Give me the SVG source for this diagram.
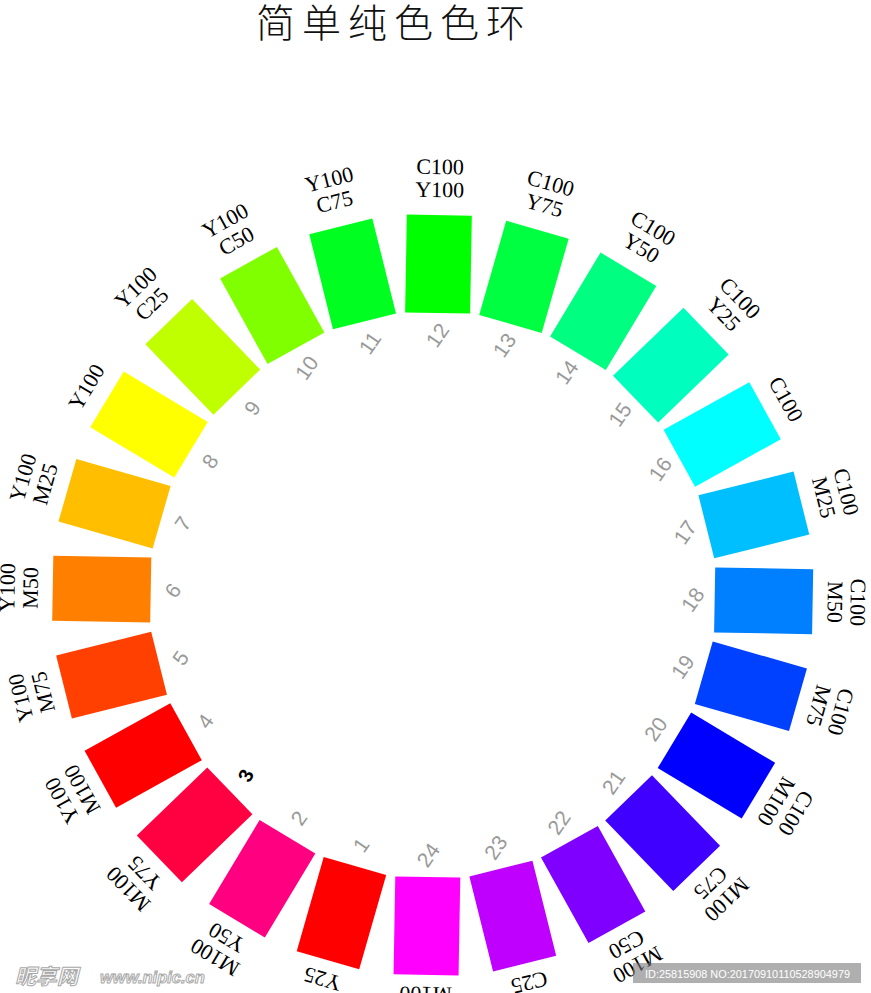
<svg xmlns="http://www.w3.org/2000/svg" width="871" height="993" viewBox="0 0 871 993">
<style>
.title{font-family:"Noto Sans CJK SC","Noto Sans CJK JP",sans-serif;font-size:39px;font-weight:300;fill:#111;letter-spacing:7px}
.lbl{font-family:"Liberation Serif","Times New Roman",serif;font-size:22px;fill:#000;text-anchor:middle}
.num{font-family:"Liberation Sans",Arial,sans-serif;font-size:21px;fill:#9a9a9a;text-anchor:middle}
.num3{font-family:"Liberation Sans",Arial,sans-serif;font-size:20px;font-weight:bold;fill:#000;text-anchor:middle}
.wm{font-family:"Liberation Sans",Arial,"Noto Sans CJK SC",sans-serif;font-weight:bold;font-style:italic;fill:#fff;stroke:#a8a8a8;stroke-width:1}
.wid{font-family:"Liberation Sans",Arial,sans-serif;font-size:10.5px;fill:#fff}
</style>
<rect width="871" height="993" fill="#fff"/>
<text class="title" x="256" y="37">简单纯色色环</text>

<g id="n1" transform="rotate(-164 432.7 595)">
<rect x="400.2" y="215" width="65" height="98" fill="#FF0000"/>
<text class="lbl" x="432.7" y="202.9">Y25</text>
<text class="num" transform="translate(432.7 335) rotate(109)" y="7.5">1</text>
</g>
<g id="n2" transform="rotate(-149 432.7 595)">
<rect x="400.2" y="215" width="65" height="98" fill="#FF0080"/>
<text class="lbl" x="432.7" y="179.6">M100</text>
<text class="lbl" x="432.7" y="202.6">Y50</text>
<text class="num" transform="translate(432.7 335) rotate(94)" y="7.5">2</text>
</g>
<g id="n3" transform="rotate(-134 432.7 595)">
<rect x="400.2" y="215" width="65" height="98" fill="#FF0040"/>
<text class="lbl" x="432.7" y="179.1">M100</text>
<text class="lbl" x="432.7" y="202.1">Y75</text>
<text class="num3" transform="translate(432.7 335) rotate(69)" y="7">3</text>
</g>
<g id="n4" transform="rotate(-119 432.7 595)">
<rect x="400.2" y="215" width="65" height="98" fill="#FF0000"/>
<text class="lbl" x="432.7" y="178.5">Y100</text>
<text class="lbl" x="432.7" y="201.5">M100</text>
<text class="num" transform="translate(432.7 335) rotate(64)" y="7.5">4</text>
</g>
<g id="n5" transform="rotate(-104 432.7 595)">
<rect x="400.2" y="215" width="65" height="98" fill="#FF4000"/>
<text class="lbl" x="432.7" y="177.8">Y100</text>
<text class="lbl" x="432.7" y="200.8">M75</text>
<text class="num" transform="translate(432.7 335) rotate(49)" y="7.5">5</text>
</g>
<g id="n6" transform="rotate(-89 432.7 595)">
<rect x="400.2" y="215" width="65" height="98" fill="#FF8000"/>
<text class="lbl" x="432.7" y="177">Y100</text>
<text class="lbl" x="432.7" y="200">M50</text>
<text class="num" transform="translate(432.7 335) rotate(34)" y="7.5">6</text>
</g>
<g id="n7" transform="rotate(-74 432.7 595)">
<rect x="400.2" y="215" width="65" height="98" fill="#FFBF00"/>
<text class="lbl" x="432.7" y="176.2">Y100</text>
<text class="lbl" x="432.7" y="199.2">M25</text>
<text class="num" transform="translate(432.7 335) rotate(19)" y="7.5">7</text>
</g>
<g id="n8" transform="rotate(-59 432.7 595)">
<rect x="400.2" y="215" width="65" height="98" fill="#FFFF00"/>
<text class="lbl" x="432.7" y="198.5">Y100</text>
<text class="num" transform="translate(432.7 335) rotate(4)" y="7.5">8</text>
</g>
<g id="n9" transform="rotate(-44 432.7 595)">
<rect x="400.2" y="215" width="65" height="98" fill="#BFFF00"/>
<text class="lbl" x="432.7" y="174.9">Y100</text>
<text class="lbl" x="432.7" y="197.9">C25</text>
<text class="num" transform="translate(432.7 335) rotate(-11)" y="7.5">9</text>
</g>
<g id="n10" transform="rotate(-29 432.7 595)">
<rect x="400.2" y="215" width="65" height="98" fill="#80FF00"/>
<text class="lbl" x="432.7" y="174.4">Y100</text>
<text class="lbl" x="432.7" y="197.4">C50</text>
<text class="num" transform="translate(432.7 335) rotate(-26)" y="7.5">10</text>
</g>
<g id="n11" transform="rotate(-14 432.7 595)">
<rect x="400.2" y="215" width="65" height="98" fill="#00FF20"/>
<text class="lbl" x="432.7" y="174">Y100</text>
<text class="lbl" x="432.7" y="197">C75</text>
<text class="num" transform="translate(432.7 335) rotate(-41)" y="7.5">11</text>
</g>
<g id="n12" transform="rotate(1 432.7 595)">
<rect x="400.2" y="215" width="65" height="98" fill="#00FF00"/>
<text class="lbl" x="432.7" y="174">C100</text>
<text class="lbl" x="432.7" y="197">Y100</text>
<text class="num" transform="translate(432.7 335) rotate(-56)" y="7.5">12</text>
</g>
<g id="n13" transform="rotate(16 432.7 595)">
<rect x="400.2" y="215" width="65" height="98" fill="#00FF40"/>
<text class="lbl" x="432.7" y="174">C100</text>
<text class="lbl" x="432.7" y="197">Y75</text>
<text class="num" transform="translate(432.7 335) rotate(-71)" y="7.5">13</text>
</g>
<g id="n14" transform="rotate(31 432.7 595)">
<rect x="400.2" y="215" width="65" height="98" fill="#00FF80"/>
<text class="lbl" x="432.7" y="174.4">C100</text>
<text class="lbl" x="432.7" y="197.4">Y50</text>
<text class="num" transform="translate(432.7 335) rotate(-86)" y="7.5">14</text>
</g>
<g id="n15" transform="rotate(46 432.7 595)">
<rect x="400.2" y="215" width="65" height="98" fill="#00FFBF"/>
<text class="lbl" x="432.7" y="174.9">C100</text>
<text class="lbl" x="432.7" y="197.9">Y25</text>
<text class="num" transform="translate(432.7 335) rotate(-101)" y="7.5">15</text>
</g>
<g id="n16" transform="rotate(61 432.7 595)">
<rect x="400.2" y="215" width="65" height="98" fill="#00FFFF"/>
<text class="lbl" x="432.7" y="198.5">C100</text>
<text class="num" transform="translate(432.7 335) rotate(-116)" y="7.5">16</text>
</g>
<g id="n17" transform="rotate(76 432.7 595)">
<rect x="400.2" y="215" width="65" height="98" fill="#00BFFF"/>
<text class="lbl" x="432.7" y="176.2">C100</text>
<text class="lbl" x="432.7" y="199.2">M25</text>
<text class="num" transform="translate(432.7 335) rotate(-131)" y="7.5">17</text>
</g>
<g id="n18" transform="rotate(91 432.7 595)">
<rect x="400.2" y="215" width="65" height="98" fill="#0080FF"/>
<text class="lbl" x="432.7" y="177">C100</text>
<text class="lbl" x="432.7" y="200">M50</text>
<text class="num" transform="translate(432.7 335) rotate(-146)" y="7.5">18</text>
</g>
<g id="n19" transform="rotate(106 432.7 595)">
<rect x="400.2" y="215" width="65" height="98" fill="#0040FF"/>
<text class="lbl" x="432.7" y="177.8">C100</text>
<text class="lbl" x="432.7" y="200.8">M75</text>
<text class="num" transform="translate(432.7 335) rotate(-161)" y="7.5">19</text>
</g>
<g id="n20" transform="rotate(121 432.7 595)">
<rect x="400.2" y="215" width="65" height="98" fill="#0000FF"/>
<text class="lbl" x="432.7" y="178.5">C100</text>
<text class="lbl" x="432.7" y="201.5">M100</text>
<text class="num" transform="translate(432.7 335) rotate(-176)" y="7.5">20</text>
</g>
<g id="n21" transform="rotate(136 432.7 595)">
<rect x="400.2" y="215" width="65" height="98" fill="#4000FF"/>
<text class="lbl" x="432.7" y="179.1">M100</text>
<text class="lbl" x="432.7" y="202.1">C75</text>
<text class="num" transform="translate(432.7 335) rotate(-191)" y="7.5">21</text>
</g>
<g id="n22" transform="rotate(151 432.7 595)">
<rect x="400.2" y="215" width="65" height="98" fill="#8000FF"/>
<text class="lbl" x="432.7" y="179.6">M100</text>
<text class="lbl" x="432.7" y="202.6">C50</text>
<text class="num" transform="translate(432.7 335) rotate(-206)" y="7.5">22</text>
</g>
<g id="n23" transform="rotate(166 432.7 595)">
<rect x="400.2" y="215" width="65" height="98" fill="#BF00FF"/>
<text class="lbl" x="432.7" y="202.9">C25</text>
<text class="num" transform="translate(432.7 335) rotate(-221)" y="7.5">23</text>
</g>
<g id="n24" transform="rotate(181 432.7 595)">
<rect x="400.2" y="215" width="65" height="98" fill="#FF00FF"/>
<text class="lbl" x="432.7" y="203">M100</text>
<text class="num" transform="translate(432.7 335) rotate(-236)" y="7.5">24</text>
</g>

<g id="watermark">
<text class="wm" x="15" y="984" font-size="21">昵享网</text>
<text class="wm" x="100" y="983" font-size="16.5">www.nipic.cn</text>
<rect x="633" y="963" width="228" height="20" fill="#7a7a7a" fill-opacity="0.6"/>
<text class="wid" x="645" y="977.5" textLength="205" lengthAdjust="spacingAndGlyphs">ID:25815908 NO:20170910110528904979</text>
</g>
</svg>
